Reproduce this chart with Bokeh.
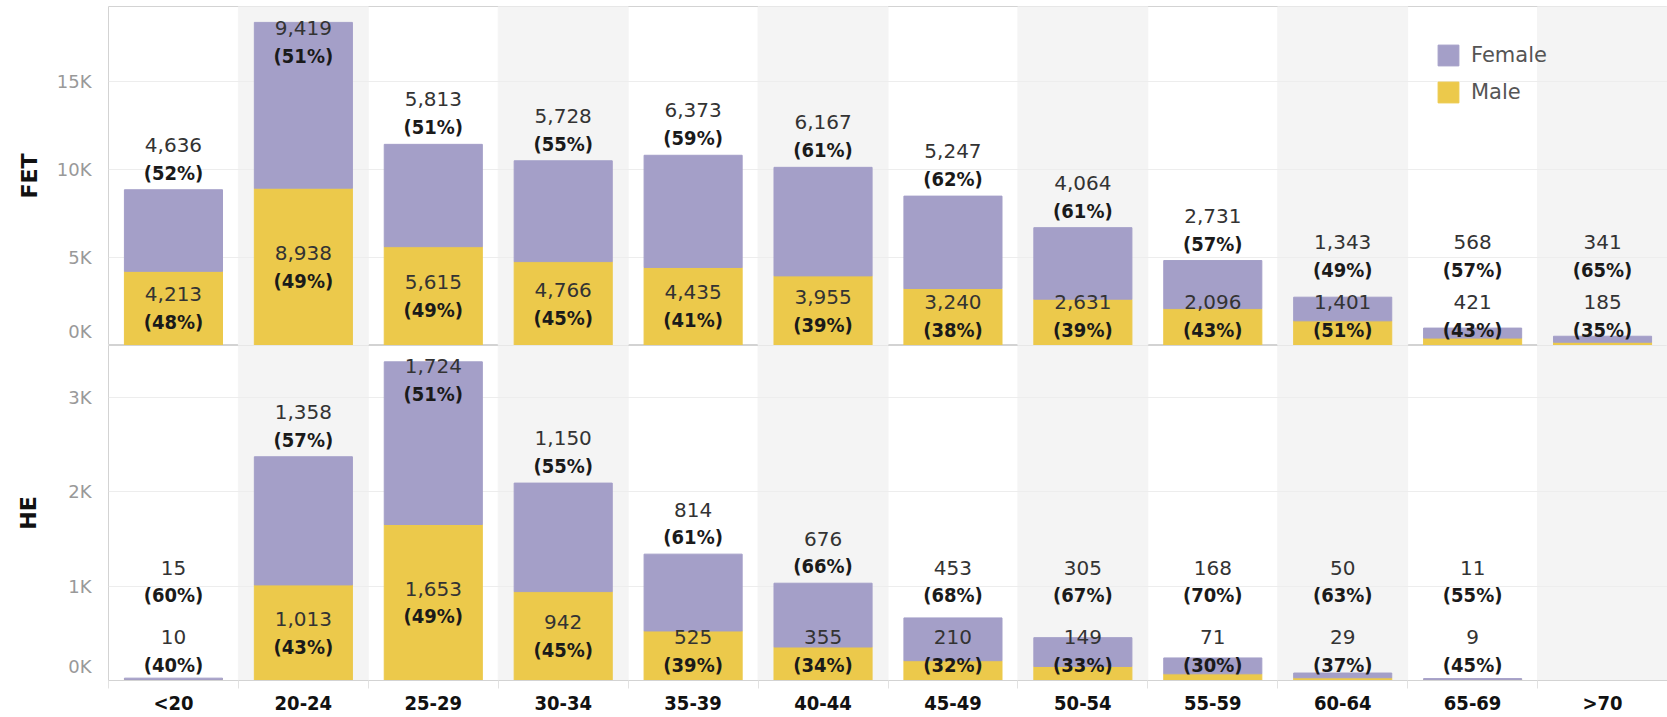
from bokeh.plotting import figure
from bokeh.models import FixedTicker, Legend, LegendItem, Range1d
from bokeh.layouts import column
from bokeh.embed import file_html
from bokeh.resources import INLINE
from bokeh.core.properties import value

# ---------------- data ----------------
age_groups = ["<20", "20-24", "25-29", "30-34", "35-39", "40-44",
              "45-49", "50-54", "55-59", "60-64", "65-69", ">70"]

fet_female = [4636, 9419, 5813, 5728, 6373, 6167, 5247, 4064, 2731, 1343, 568, 341]
fet_male = [4213, 8938, 5615, 4766, 4435, 3955, 3240, 2631, 2096, 1401, 421, 185]
fet_female_pct = [52, 51, 51, 55, 59, 61, 62, 61, 57, 49, 57, 65]
fet_male_pct = [48, 49, 49, 45, 41, 39, 38, 39, 43, 51, 43, 35]

he_female = [15, 1358, 1724, 1150, 814, 676, 453, 305, 168, 50, 11, None]
he_male = [10, 1013, 1653, 942, 525, 355, 210, 149, 71, 29, 9, None]
he_female_pct = [60, 57, 51, 55, 61, 66, 68, 67, 70, 63, 55, None]
he_male_pct = [40, 43, 49, 45, 39, 34, 32, 33, 30, 37, 45, None]

fet_ticks = [0, 5000, 10000, 15000]
fet_tick_labels = ["0K", "5K", "10K", "15K"]
he_ticks = [0, 1000, 2000, 3000]
he_tick_labels = ["0K", "1K", "2K", "3K"]

series_names = ["Female", "Male"]

# ---------------- style ----------------
FEMALE_COLOR = "#a49fc8"
MALE_COLOR = "#ecc94b"
BAND_COLOR = "#f4f4f4"
GRID_COLOR = "#ededed"
LINE_COLOR = "#d3d3d3"
FONT = "DejaVu Sans"
BOLD_FONT = "DejaVu Sans Condensed"
W = 1667
LEFT = 108
BAR_W = 0.755


def make_panel(title, female, male, fpct, mpct, ymax, ticks, tick_labels,
               height, top_border, frame_h, bottom_border, show_x, gap, title_standoff):
    n = len(age_groups)
    idx = list(range(n))
    p = figure(width=W, height=height, output_backend="svg", toolbar_location=None,
               x_range=Range1d(-0.5, n - 0.5), y_range=Range1d(0, ymax),
               x_axis_location="below" if show_x else None,
               min_border_left=LEFT, min_border_right=0, min_border_top=top_border,
               min_border_bottom=bottom_border)
    p.background_fill_color = "white"
    p.border_fill_color = "white"
    p.outline_line_color = LINE_COLOR

    # alternating column bands
    band_x = [i for i in idx if i % 2 == 1]
    p.vbar(x=band_x, width=1.0, bottom=0, top=ymax, color=BAND_COLOR, level="image")

    # grid
    p.xgrid.visible = False
    p.ygrid.ticker = FixedTicker(ticks=ticks[1:])
    p.ygrid.grid_line_color = GRID_COLOR

    k = frame_h / ymax  # px per unit
    xs, ms, fs = [], [], []
    for i in idx:
        if female[i] is None:
            continue
        xs.append(i)
        ms.append(male[i])
        fs.append(female[i])
    tops = [m + f for m, f in zip(ms, fs)]

    mr = p.vbar(x=xs, width=BAR_W, bottom=0, top=ms, color=MALE_COLOR)
    fr = p.vbar(x=xs, width=BAR_W, bottom=ms, top=tops, color=FEMALE_COLOR)

    # label positions
    mc_y, mp_y, fc_y, fp_y = [], [], [], []
    for m, t in zip(ms, tops):
        mc = max(m * k / 2, 30)
        fcount = max(t * k + 45, mc + 14 + gap)
        fcount = min(fcount, frame_h - 21)
        mc_y.append((mc + 14) / k)
        mp_y.append((mc - 14) / k)
        fc_y.append(fcount / k)
        fp_y.append((fcount - 28) / k)

    labs = [i for i in idx if female[i] is not None]
    f_counts = [f"{female[i]:,}" for i in labs]
    m_counts = [f"{male[i]:,}" for i in labs]
    f_pcts = [f"({fpct[i]}%)" for i in labs]
    m_pcts = [f"({mpct[i]}%)" for i in labs]

    common = dict(text_align="center", text_baseline="middle", text_font_size="20px")
    p.text(x=xs, y=fc_y, text=f_counts, text_font=value(FONT), text_color="#333333", **common)
    p.text(x=xs, y=fp_y, text=f_pcts, text_font=value(BOLD_FONT), text_font_style="bold",
           text_color="#1a1a1a", **common)
    p.text(x=xs, y=mc_y, text=m_counts, text_font=value(FONT), text_color="#333333", **common)
    p.text(x=xs, y=mp_y, text=m_pcts, text_font=value(BOLD_FONT), text_font_style="bold",
           text_color="#1a1a1a", **common)

    # y axis
    zero_pos = 14 / k
    ytick_pos = [zero_pos] + ticks[1:]
    yax = p.yaxis[0]
    yax.ticker = FixedTicker(ticks=ytick_pos)
    yax.major_label_overrides = {pos: lab for pos, lab in zip(ytick_pos, tick_labels)}
    yax.major_tick_line_color = None
    yax.minor_tick_line_color = None
    yax.axis_line_color = None
    yax.major_label_standoff = 11
    yax.major_label_text_font = FONT
    yax.major_label_text_font_size = "18px"
    yax.major_label_text_color = "#999999"
    yax.axis_label = title
    yax.axis_label_text_font = FONT
    yax.axis_label_text_font_style = "bold"
    yax.axis_label_text_font_size = "22px"
    yax.axis_label_text_color = "#111111"
    yax.axis_label_standoff = title_standoff

    if show_x:
        xax = p.xaxis[0]
        xax.ticker = FixedTicker(ticks=idx, minor_ticks=[i - 0.5 for i in range(n + 1)])
        xax.major_label_overrides = {i: g for i, g in zip(idx, age_groups)}
        xax.major_tick_line_color = None
        xax.major_tick_out = 0
        xax.major_tick_in = 0
        xax.minor_tick_out = 8
        xax.minor_tick_in = 0
        xax.minor_tick_line_color = "#e2e2e2"
        xax.axis_line_color = LINE_COLOR
        xax.axis_label_standoff = 0
        xax.major_label_standoff = 2
        xax.major_label_text_font = BOLD_FONT
        xax.major_label_text_font_style = "bold"
        xax.major_label_text_font_size = "20px"
        xax.major_label_text_color = "#111111"
    return p, fr, mr


p1, fr1, mr1 = make_panel("FET", fet_female, fet_male, fet_female_pct, fet_male_pct,
                          19260, fet_ticks, fet_tick_labels, 345, 6, 339, 0, False, 60, 12)
p2, _, _ = make_panel("HE", he_female, he_male, he_female_pct, he_male_pct,
                      3550, he_ticks, he_tick_labels, 372, 0, 338, 34, True, 70, 24)

legend = Legend(items=[LegendItem(label=series_names[0], renderers=[fr1]),
                       LegendItem(label=series_names[1], renderers=[mr1])],
                location=(1327, 240), padding=0, margin=0, spacing=11,
                glyph_width=26, glyph_height=26, label_height=26,
                label_standoff=10, label_text_font=FONT, label_text_font_size="21px",
                label_text_color="#555555", background_fill_alpha=0,
                border_line_color=None)
p1.add_layout(legend)

layout = column(p1, p2, spacing=0)
open("out.html", "w").write(file_html(layout, INLINE))
